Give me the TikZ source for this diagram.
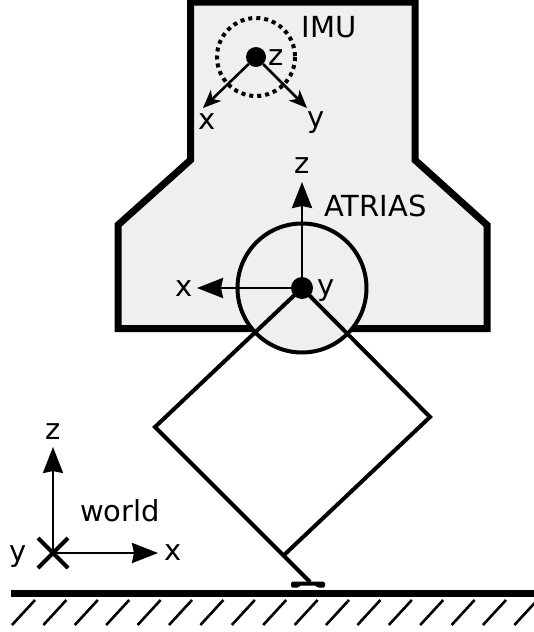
\documentclass[tikz,border=0pt]{standalone}
\usepackage{fontspec}
\setmainfont{DejaVu Sans}
\usetikzlibrary{arrows.meta}
\definecolor{colorBody}{RGB}{239,239,239}
\tikzset{
  axislabel/.style={inner sep=0pt,font=\fontsize{29}{29}\selectfont},
  bigaxis/.style={line width=2.6pt,-{Stealth[length=26pt,width=20pt,inset=2pt]}},
  smallaxis/.style={line width=2.6pt,-{Stealth[length=18pt,width=15pt,inset=5pt]}},
  origin/.style={circle,fill=black,inner sep=0pt,minimum size=#1},
  legline/.style={line width=4pt,line join=miter}
}
\begin{document}
\begin{tikzpicture}[x=1pt,y=-1pt]
  \useasboundingbox (0,0) rectangle (534,632);
  % torso
  \draw[line width=7pt,fill=colorBody,line join=miter] (190.5,2) -- (415,2) -- (415,160) -- (487,225) -- (487,328.5) -- (118,328.5) -- (118,225) -- (190.5,160) -- cycle;
  \draw[line width=4pt,fill=colorBody] (302,288) circle (64.5);
  % legs
  \coordinate (kneeL) at (155,427);
  \coordinate (kneeR) at (430,417);
  \coordinate (ankle) at (283,556);
  \coordinate (toe) at (310,582);
  \node[origin=22pt] (hip) at (302,288) {};
  \draw[legline] (hip.center) -- (kneeL) -- (toe);
  \draw[legline] (hip.center) -- (kneeR) -- (ankle);
  \fill[rounded corners=1.5pt] (291,587.5) -- (291,581.5) -- (325,581.5) -- (325,587.5) -- (317,587.5) -- (317,585.5) -- (299,585.5) -- (299,587.5) -- cycle;
  % ground
  \draw[line width=7.4pt] (11,593.7) -- (534,593.7);
  \foreach \i in {0,...,16}
    \draw[line width=2.6pt] (12+31.4*\i,625) -- (35+31.4*\i,600);
  % atrias frame
  \coordinate (atriasZ) at (302,182);
  \coordinate (atriasX) at (197,288);
  \draw[bigaxis] (hip) -- (atriasZ);
  \draw[bigaxis] (hip) -- (atriasX);
  \node[axislabel] (labelAtriasZ) at (302,166) {z};
  \node[axislabel] (labelAtriasX) at (184,289) {x};
  \node[axislabel] (labelAtriasY) at (326,291) {y};
  \node[axislabel] (labelAtrias) at (375.5,206) {ATRIAS};
  % imu frame
  \node[origin=20pt] (imu) at (256,57) {};
  \draw[line width=4pt,dash pattern=on 4pt off 4pt] (imu.center) circle (39);
  \coordinate (imuX) at (203,108);
  \coordinate (imuY) at (307,108);
  \draw[smallaxis] (imu) -- (imuX);
  \draw[smallaxis] (imu) -- (imuY);
  \node[axislabel] (labelImuZ) at (276,58) {z};
  \node[axislabel] (labelImuX) at (207,122) {x};
  \node[axislabel] (labelImuY) at (316,123) {y};
  \node[axislabel] (labelImu) at (329,27) {IMU};
  % world frame
  \coordinate (world) at (53,553);
  \coordinate (worldZ) at (53,447);
  \coordinate (worldX) at (158,553);
  \draw[bigaxis] (world) -- (worldZ);
  \draw[bigaxis] (world) -- (worldX);
  \draw[line width=4pt] (38,538) -- (68,568);
  \draw[line width=4pt] (68,538) -- (38,568);
  \node[axislabel] (labelWorldZ) at (53,432) {z};
  \node[axislabel] (labelWorldX) at (173,553) {x};
  \node[axislabel] (labelWorldY) at (18,557) {y};
  \node[axislabel] (labelWorld) at (120,511) {world};
\end{tikzpicture}
\end{document}
